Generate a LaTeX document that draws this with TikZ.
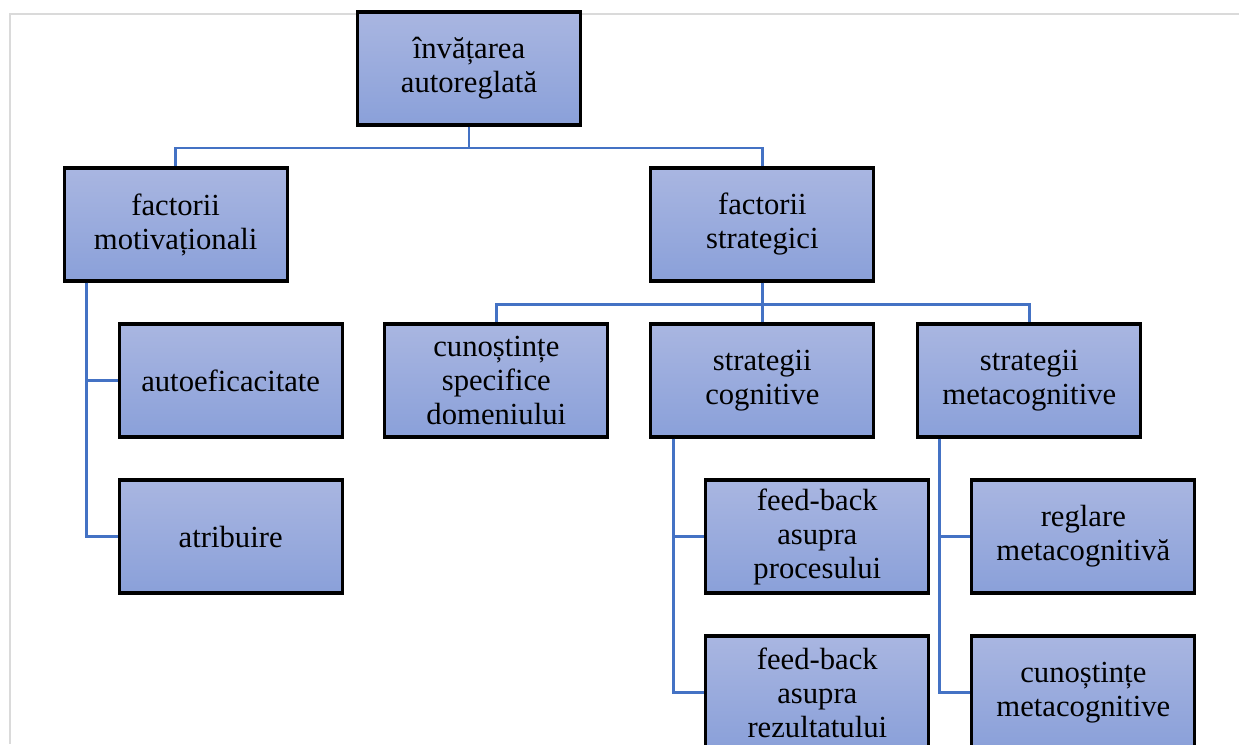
\documentclass[tikz,border=0pt]{standalone}
\usepackage{fontspec}
\setmainfont{Liberation Serif}
\usetikzlibrary{positioning}

\definecolor{boxtop}{HTML}{A9B6E1}
\definecolor{boxbot}{HTML}{8AA0D9}
\definecolor{linkblue}{HTML}{4472C4}
\definecolor{framegray}{HTML}{DADADA}

\tikzset{
    box/.style={draw=black,line width=2.3pt,top color=boxtop,bottom color=boxbot,
        minimum width=167.25pt,minimum height=84.75pt,inner sep=0pt,align=center,
        font=\fontsize{23}{25.5}\selectfont},
    link/.style={draw=linkblue,line width=1.8pt}
}

\begin{document}
\begin{tikzpicture}[on grid]
    \useasboundingbox (-351.75pt,51.375pt) rectangle (577.5pt,-506.625pt);
    \draw[framegray,line width=1.5pt] (577.5pt,40.875pt) -- (-344.6pt,40.875pt) -- (-344.6pt,-506.625pt);

    \node[box] (top) at (0,0) {învățarea\\autoreglată};
    \node[box] (mot) [below left=117pt and 220pt of top] {factorii\\motivaționali};
    \node[box] (str) [below right=117pt and 220pt of top] {factorii\\strategici};

    \node[box] (auto) [below right=117pt and 41.25pt of mot] {autoeficacitate};
    \node[box] (atr) [below=117pt of auto] {atribuire};

    \node[box] (cog) [below=117pt of str] {strategii\\cognitive};
    \node[box] (dom) [left=199.5pt of cog] {cunoștințe\\specifice\\domeniului};
    \node[box] (meta) [right=200.25pt of cog] {strategii\\metacognitive};

    \node[box] (proc) [below right=117pt and 41.25pt of cog] {feed-back\\asupra\\procesului};
    \node[box] (rez) [below=117pt of proc] {feed-back\\asupra\\rezultatului};
    \node[box] (regl) [below right=117pt and 40.5pt of meta] {reglare\\metacognitivă};
    \node[box] (cmeta) [below=117pt of regl] {cunoștințe\\metacognitive};

    \draw[link] (top.south) -- ++(0,-16pt) -| (mot.north);
    \draw[link] (top.south) -- ++(0,-16pt) -| (str.north);

    \draw[link] ([xshift=18pt]mot.south west) |- (auto.west);
    \draw[link] ([xshift=18pt]mot.south west) |- (atr.west);

    \draw[link] (str.south) -- ++(0,-16.5pt) -| (dom.north);
    \draw[link] (str.south) -- (cog.north);
    \draw[link] (str.south) -- ++(0,-16.5pt) -| (meta.north);

    \draw[link] ([xshift=18pt]cog.south west) |- (proc.west);
    \draw[link] ([xshift=18pt]cog.south west) |- (rez.west);
    \draw[link] ([xshift=17.25pt]meta.south west) |- (regl.west);
    \draw[link] ([xshift=17.25pt]meta.south west) |- (cmeta.west);
\end{tikzpicture}
\end{document}
